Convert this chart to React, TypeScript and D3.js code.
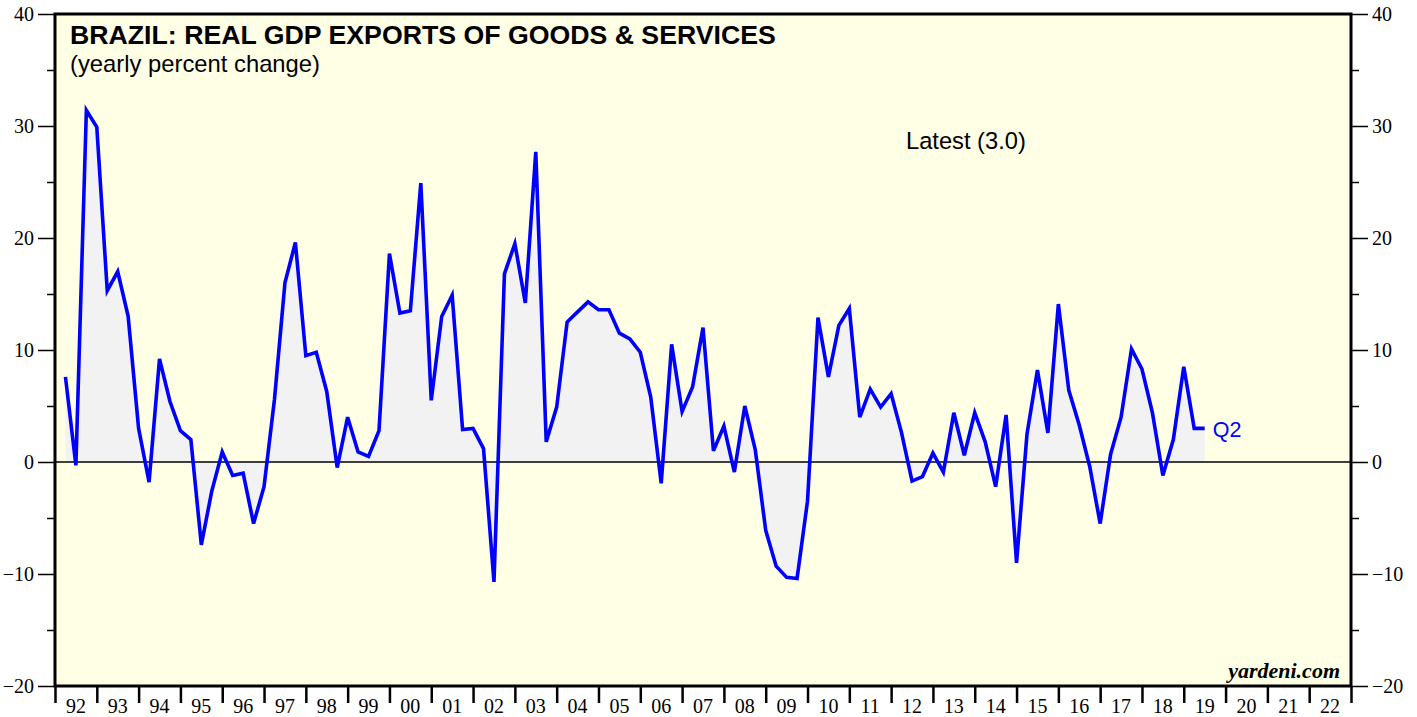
import React, { useEffect, useRef } from "react";
import * as d3 from "d3";

// Brazil real GDP exports of goods & services, y/y %, quarterly 1992Q1 - 2019Q2
const startYear = 1992;
const exportsYoY = [
  7.6, -0.3, 31.4, 29.9, // 1992
  15.3, 17.0, 13.0, 3.0, // 1993
  -1.8, 9.2, 5.4, 2.8, // 1994
  2.0, -7.4, -2.6, 0.9, // 1995
  -1.2, -1.0, -5.5, -2.2, // 1996
  5.6, 16.0, 19.6, 9.5, // 1997
  9.8, 6.3, -0.5, 4.0, // 1998
  0.9, 0.5, 2.8, 18.6, // 1999
  13.3, 13.5, 24.9, 5.5, // 2000
  13.0, 14.9, 2.9, 3.0, // 2001
  1.2, -10.7, 16.8, 19.5, // 2002
  14.2, 27.7, 1.8, 4.9, // 2003
  12.5, 13.4, 14.3, 13.6, // 2004
  13.6, 11.5, 11.0, 9.8, // 2005
  5.8, -1.9, 10.5, 4.5, // 2006
  6.7, 12.0, 1.0, 3.2, // 2007
  -0.9, 5.0, 1.1, -6.1, // 2008
  -9.3, -10.3, -10.4, -3.5, // 2009
  12.9, 7.6, 12.2, 13.7, // 2010
  4.0, 6.5, 4.9, 6.1, // 2011
  2.6, -1.7, -1.3, 0.8, // 2012
  -0.9, 4.4, 0.6, 4.4, // 2013
  1.8, -2.2, 4.2, -9.0, // 2014
  2.5, 8.2, 2.6, 14.1, // 2015
  6.4, 3.3, -0.4, -5.5, // 2016
  0.7, 4.0, 10.1, 8.3, // 2017
  4.4, -1.2, 2.0, 8.5, // 2018
  3.0, 3.0, // 2019
];
const yearTicks = d3.range(1992, 2024);
const yearLabels = d3.range(1992, 2023).map((yr) => String(yr).slice(2));
const yMajor = [-20, -10, 0, 10, 20, 30, 40];
const yMinor = [-15, -5, 5, 15, 25, 35];
const latest = "Latest (3.0)";

const W = 1417;
const H = 717;
const plot = { left: 55, right: 1351, top: 14, bottom: 686 };
const serif = "'Liberation Serif', 'Times New Roman', serif";
const sans = "'Liberation Sans', Arial, sans-serif";

export default function App() {
  const ref = useRef<SVGSVGElement>(null);

  useEffect(() => {
    const svg = d3.select(ref.current);
    svg.selectAll("*").remove();

    const x = d3.scaleLinear().domain([1992, 2023]).range([plot.left, plot.right]);
    const y = d3.scaleLinear().domain([-20, 40]).range([plot.bottom, plot.top]);

    // quarter-end positions
    const data = exportsYoY.map((v, i) => ({ t: startYear + (i + 1) / 4, v }));

    svg
      .append("rect")
      .attr("x", plot.left)
      .attr("y", plot.top)
      .attr("width", plot.right - plot.left)
      .attr("height", plot.bottom - plot.top)
      .attr("fill", "#ffffe6");

    // shaded area to zero
    const area = d3
      .area<{ t: number; v: number }>()
      .x((d) => x(d.t))
      .y0(y(0))
      .y1((d) => y(d.v));
    svg.append("path").datum(data).attr("d", area).attr("fill", "#f2f2f2");

    // zero line
    svg
      .append("line")
      .attr("x1", plot.left)
      .attr("x2", plot.right)
      .attr("y1", y(0))
      .attr("y2", y(0))
      .attr("stroke", "#000")
      .attr("stroke-width", 1.6);

    const line = d3
      .line<{ t: number; v: number }>()
      .x((d) => x(d.t))
      .y((d) => y(d.v));
    svg
      .append("path")
      .datum(data)
      .attr("d", line)
      .attr("fill", "none")
      .attr("stroke", "#0000ff")
      .attr("stroke-width", 3.6)
      .attr("stroke-linejoin", "miter");

    // y axes: major + minor, both sides
    const styleAxis = (g: d3.Selection<SVGGElement, unknown, null, undefined>) => {
      g.select(".domain").remove();
      g.selectAll("line").attr("stroke", "#000").attr("stroke-width", 1.5);
      g.selectAll("text").attr("font-family", serif).attr("font-size", 20).attr("fill", "#000");
    };
    svg
      .append("g")
      .attr("transform", `translate(${plot.left},0)`)
      .call(d3.axisLeft(y).tickValues(yMajor).tickSize(17).tickPadding(4).tickFormat(d3.format("d")))
      .call(styleAxis);
    svg
      .append("g")
      .attr("transform", `translate(${plot.left},0)`)
      .call(d3.axisLeft(y).tickValues(yMinor).tickSize(8).tickFormat(() => ""))
      .call(styleAxis);
    svg
      .append("g")
      .attr("transform", `translate(${plot.right},0)`)
      .call(d3.axisRight(y).tickValues(yMajor).tickSize(17).tickPadding(4).tickFormat(d3.format("d")))
      .call(styleAxis);
    svg
      .append("g")
      .attr("transform", `translate(${plot.right},0)`)
      .call(d3.axisRight(y).tickValues(yMinor).tickSize(8).tickFormat(() => ""))
      .call(styleAxis);

    // x axis: year boundary ticks, labels centred in each year
    const xAxis = svg
      .append("g")
      .attr("transform", `translate(0,${plot.bottom})`)
      .call(d3.axisBottom(x).tickValues(yearTicks).tickSize(17).tickFormat(() => ""));
    xAxis.select(".domain").remove();
    xAxis.selectAll("line").attr("stroke", "#000").attr("stroke-width", 2.5);

    svg
      .append("g")
      .selectAll("text")
      .data(yearLabels)
      .enter()
      .append("text")
      .attr("x", (_, i) => x(1992 + i + 0.5))
      .attr("y", 713)
      .attr("text-anchor", "middle")
      .attr("font-family", serif)
      .attr("font-size", 20)
      .text((d) => d);

    // frame
    svg
      .append("rect")
      .attr("x", plot.left)
      .attr("y", plot.top)
      .attr("width", plot.right - plot.left)
      .attr("height", plot.bottom - plot.top)
      .attr("fill", "none")
      .attr("stroke", "#000")
      .attr("stroke-width", 3);

    // titles and notes
    svg
      .append("text")
      .attr("x", 70)
      .attr("y", 44)
      .attr("font-family", sans)
      .attr("font-weight", "bold")
      .attr("font-size", 26.7)
      .text("BRAZIL: REAL GDP EXPORTS OF GOODS & SERVICES");
    svg
      .append("text")
      .attr("x", 70)
      .attr("y", 72)
      .attr("font-family", sans)
      .attr("font-size", 23.8)
      .text("(yearly percent change)");
    svg
      .append("text")
      .attr("x", 906)
      .attr("y", 149)
      .attr("font-family", sans)
      .attr("font-size", 23.7)
      .text(latest);
    const last = data[data.length - 1];
    svg
      .append("text")
      .attr("x", x(last.t) + 8)
      .attr("y", y(last.v) + 9)
      .attr("font-family", sans)
      .attr("font-size", 21.5)
      .attr("fill", "#0000ff")
      .text("Q2");
    svg
      .append("text")
      .attr("x", 1340)
      .attr("y", 678)
      .attr("text-anchor", "end")
      .attr("font-family", serif)
      .attr("font-weight", "bold")
      .attr("font-style", "italic")
      .attr("font-size", 22)
      .text("yardeni.com");
  }, []);

  return (
    <svg
      ref={ref}
      width={W}
      height={H}
      style={{ position: "absolute", left: 0, top: 0, background: "#fff" }}
    />
  );
}
